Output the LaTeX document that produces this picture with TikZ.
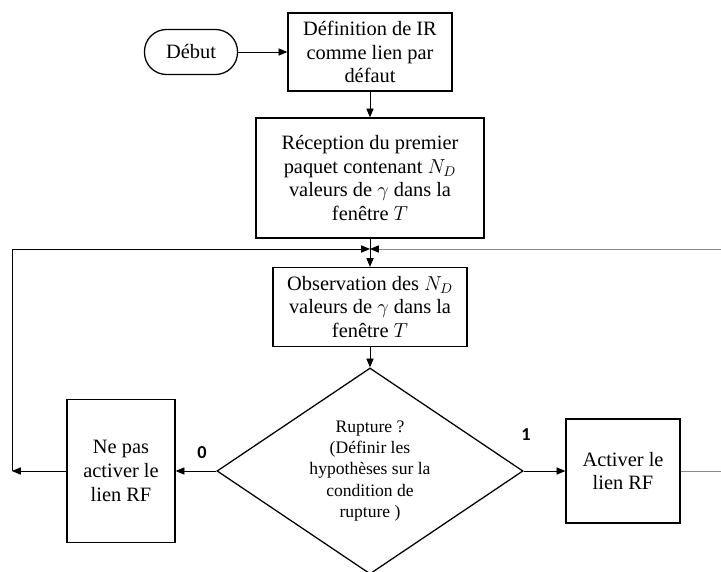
\documentclass[tikz,border=0pt]{standalone}
\usepackage{fontspec}
\setmainfont{Liberation Serif}
\newfontfamily\labfont{Carlito}
\usetikzlibrary{arrows.meta,shapes.geometric}
\definecolor{linegray}{HTML}{8A8A8A}

\begin{document}
\begin{tikzpicture}[
 x=0.025cm,y=-0.025cm,
 font=\fontsize{14.5}{16.8}\selectfont,
 box/.style={draw,line width=0.9pt,align=center,inner sep=2pt},
 term/.style={draw,line width=0.9pt,rounded corners=0.55cm,minimum width=2.325cm,minimum height=1.125cm},
 decision/.style={draw,line width=0.9pt,diamond,aspect=1.49,minimum width=7.65cm,minimum height=5.15cm,inner sep=0pt,align=center,font=\fontsize{12.5}{15.2}\selectfont},
 lab/.style={font=\labfont\bfseries\fontsize{13}{15}\selectfont},
 arr/.style={-{Triangle[length=2.2mm,width=1.8mm,color=black]},line width=0.6pt}
]
\useasboundingbox (0,0) rectangle (721,571);

\node[term] (debut) at (191,52) {Début};
\node[box,minimum width=4.1cm,minimum height=1.95cm] (def) at (370,52) {Définition de IR\\comme lien par\\défaut};
\node[box,minimum width=5.7cm,minimum height=3cm] (recep) at (370,178) {Réception du premier\\paquet contenant $N_D$\\valeurs de $\gamma$ dans la\\fenêtre $T$};
\node[box,minimum width=4.85cm,minimum height=1.975cm] (obs) at (370,307) {Observation des $N_D$\\valeurs de $\gamma$ dans la\\fenêtre $T$};
\node[decision] (rupt) at (370,471) {Rupture ?\\(Définir les\\hypothèses sur la\\condition de\\rupture )};
\node[box,minimum width=2.7cm,minimum height=3.575cm] (nepas) at (121,471) {Ne pas\\activer le\\lien RF};
\node[box,minimum width=2.85cm,minimum height=2.6cm] (activ) at (623,471) {Activer le\\lien RF};
\node[lab] (l0) at (202,453) {0};
\node[lab] (l1) at (526,435) {1};

\coordinate (j) at (370,249);
\coordinate (lc) at (12,471);
\coordinate (rc) at (740,471);

\draw[arr] (debut) -- (def);
\draw[arr] (def) -- (recep);
\draw[line width=0.6pt] (recep) -- (j);
\draw[arr] (j) -- (obs);
\draw[arr] (obs) -- (rupt);
\draw[arr] (rupt) -- (nepas);
\draw[arr] (rupt) -- (activ);
\draw[arr] (nepas) -- (lc);
\draw[arr] (lc) |- (j);
\draw[line width=0.6pt,linegray] (activ) -- (rc);
\draw[arr,linegray] (rc) |- (j);
\end{tikzpicture}
\end{document}
